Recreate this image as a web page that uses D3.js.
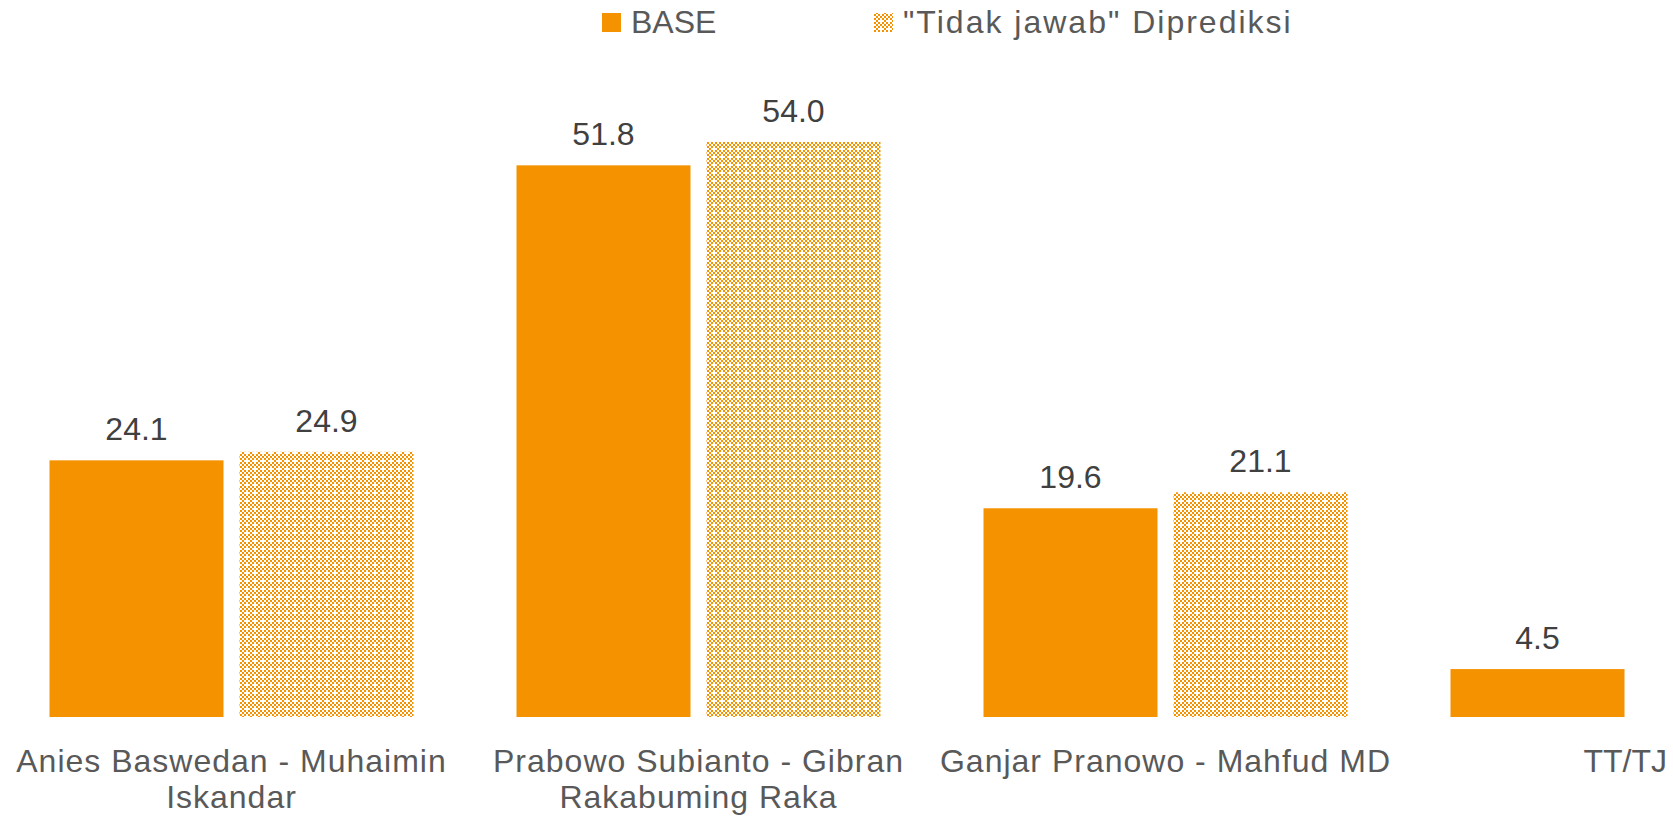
<!DOCTYPE html>
<html>
<head>
<meta charset="utf-8">
<script src="https://cdn.jsdelivr.net/npm/d3@7/dist/d3.min.js"></script>
<style>
  body { margin: 0; background: #fff; }
  svg { display: block; }
</style>
</head>
<body>
<div class="chart"></div>
<script>
// categories (label lines) and series values
var categories = [
    ["Anies Baswedan - Muhaimin", "Iskandar"],
    ["Prabowo Subianto - Gibran", "Rakabuming Raka"],
    ["Ganjar Pranowo - Mahfud MD"],
    ["TT/TJ"]
];
var seriesNames = ["BASE", "\"Tidak jawab\" Diprediksi"];
var baseValues = [24.1, 51.8, 19.6, 4.5];
var predictedValues = [24.9, 54.0, 21.1, null];

var width = 1673, height = 817;
var orange = "#F59200";
var fontFamily = "'Liberation Sans', Arial, sans-serif";

var svg = d3.select(".chart").append("svg").attr("width", width).attr("height", height);

// checker pattern for the predicted series
var defs = svg.append("defs");
var pat = defs.append("pattern").attr("id", "checker").attr("patternUnits", "userSpaceOnUse")
    .attr("width", 16).attr("height", 16);
pat.append("rect").attr("width", 16).attr("height", 16).attr("fill", "#fff");
for (var i = 0; i < 8; i++) {
    for (var j = 0; j < 8; j++) {
        if ((i + j) % 2 == 0 && !(i % 4 == 0 && j % 4 == 2)) {
            pat.append("rect").attr("x", i * 2).attr("y", j * 2).attr("width", 2).attr("height", 2).attr("fill", orange);
        }
    }
}

var catIds = categories.map(function(d, i) { return i; });

// the plot runs past the right edge, like the original slide
var x0 = d3.scaleBand().domain(catIds).range([-2, -2 + 4 * 467]);
var x1 = d3.scaleBand().domain([0, 1]).range([51.5, 415.5]).paddingInner(16 / 190);
var y = d3.scaleLinear().domain([0, 60]).range([717, 78]);

var rows = catIds.map(function(i) {
    return [
        { cat: i, s: 0, v: baseValues[i] },
        { cat: i, s: 1, v: predictedValues[i] }
    ].filter(function(d) { return d.v != null; });
});

var groups = svg.selectAll("g.cat").data(rows).enter().append("g")
    .attr("class", "cat")
    .attr("transform", function(d, i) { return "translate(" + x0(i) + ",0)"; });

groups.selectAll("rect").data(function(d) { return d; }).enter().append("rect")
    .attr("x", function(d) { return x1(d.s); })
    .attr("y", function(d) { return y(d.v); })
    .attr("width", x1.bandwidth())
    .attr("height", function(d) { return y(0) - y(d.v); })
    .attr("fill", function(d) { return d.s == 0 ? orange : "url(#checker)"; });

groups.selectAll("text.val").data(function(d) { return d; }).enter().append("text")
    .attr("class", "val")
    .attr("x", function(d) { return x1(d.s) + x1.bandwidth() / 2; })
    .attr("y", function(d) { return y(d.v) - 20; })
    .attr("text-anchor", "middle")
    .attr("font-family", fontFamily).attr("font-size", "32px").attr("fill", "#404040")
    .text(function(d) { return d.v.toFixed(1); });

// category labels, one text per line; keep them inside the page
categories.forEach(function(lines, i) {
    lines.forEach(function(line, k) {
        var cx = x0(i) + x0.bandwidth() / 2;
        var t = svg.append("text")
            .attr("x", cx)
            .attr("y", 772 + k * 36)
            .attr("text-anchor", "middle")
            .attr("font-family", fontFamily).attr("font-size", "32px")
            .attr("letter-spacing", lines.length == 1 && line.length < 8 ? "0px" : "1px")
            .attr("fill", "#595959")
            .text(line);
        var w = t.node().getComputedTextLength();
        if (cx + w / 2 > width - 6) {
            t.attr("text-anchor", "end").attr("x", width - 6);
        }
    });
});

// legend
var legendX = [602, 874];
seriesNames.forEach(function(name, i) {
    svg.append("rect").attr("x", legendX[i]).attr("y", 13).attr("width", 19).attr("height", 19)
        .attr("fill", i == 0 ? orange : "url(#checker)");
    svg.append("text").attr("x", legendX[i] + 29).attr("y", 33)
        .attr("font-family", fontFamily).attr("font-size", "32px")
        .attr("letter-spacing", i == 0 ? "0px" : "2px").attr("fill", "#595959")
        .text(name);
});
</script>
</body>
</html>
